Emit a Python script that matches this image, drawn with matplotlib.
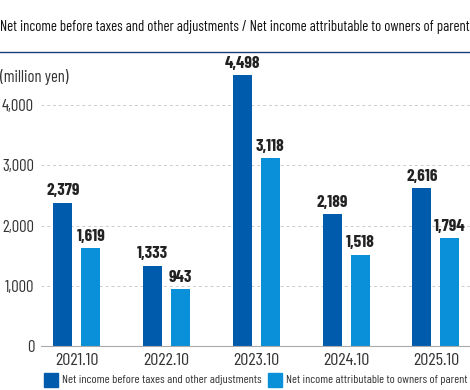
import numpy as np
import matplotlib.pyplot as plt
from matplotlib.patches import Rectangle
from matplotlib.lines import Line2D

years = ["2021.10", "2022.10", "2023.10", "2024.10", "2025.10"]
before_tax = [2379, 1333, 4498, 2189, 2616]
attributable = [1619, 943, 3118, 1518, 1794]
yticks = [0, 1000, 2000, 3000, 4000]

dark = "#005bac"
light = "#0a8fd9"
narrow = ["Barlow Condensed", "DejaVu Sans"]


def fit_width(t, target_px):
    # shrink a text until it spans the wanted number of pixels
    r = fig.canvas.get_renderer()
    wpx = t.get_window_extent(renderer=r).width
    t.set_fontsize(t.get_fontsize() * target_px / wpx)


fig = plt.figure(figsize=(4.7, 3.9), dpi=100)
ax = fig.add_axes([41/470, 1-346/390, 429/470, 300/390])

x = np.arange(len(years))
w = 0.21
ax.bar(x - 0.156, before_tax, w, color=dark)
ax.bar(x + 0.156, attributable, w, color=light)
for xi, a, b in zip(x, before_tax, attributable):
    ax.text(xi - 0.156, a + 70, f"{a:,}", ha="center", va="bottom",
            fontsize=12.5, fontweight="bold", family=narrow, color="#222222")
    ax.text(xi + 0.156, b + 70, f"{b:,}", ha="center", va="bottom",
            fontsize=12.5, fontweight="bold", family=narrow, color="#222222")

ax.set_xlim(-0.4, 4.38)
ax.set_ylim(0, 4980)
ax.set_xticks(x)
ax.set_xticklabels(years, family=narrow, fontsize=13, color="#333333")
ax.set_yticks(yticks)
ax.set_yticklabels([f"{v:,}" for v in yticks], family=narrow, fontsize=12, color="#333333")
ax.tick_params(length=0, pad=5)
ax.tick_params(axis="x", pad=5)
ax.grid(axis="y", color="#cccccc", linestyle=(0, (3, 3)), linewidth=0.7)
ax.set_axisbelow(True)
for s in ["top", "right", "left"]:
    ax.spines[s].set_visible(False)
ax.spines["bottom"].set_color("#aaaaaa")

title = fig.text(0.0, 1-27/390, "Net income before taxes and other adjustments / Net income attributable to owners of parent",
                 family=narrow, fontsize=13, va="center", ha="left", color="#111111")
fit_width(title, 468)
fig.add_artist(Line2D([0, 1], [1-52/390, 1-52/390], color="#1c3f7c", linewidth=1))
fig.text(0.0, 1-77/390, "(million yen)", family=narrow, fontsize=12, va="center", color="#333333")

# legend
ly = 1-380/390
for lx, label, c, span in [(44, "Net income before taxes and other adjustments", dark, 199),
                           (268, "Net income attributable to owners of parent", light, 182)]:
    fig.add_artist(Rectangle((lx/470, ly - 7/390), 14/470, 14/390, color=c))
    t = fig.text((lx + 18)/470, ly, label, family=narrow, fontsize=10.5, va="center", color="#333333")
    fit_width(t, span)

fig.savefig("out.png", dpi=100)
